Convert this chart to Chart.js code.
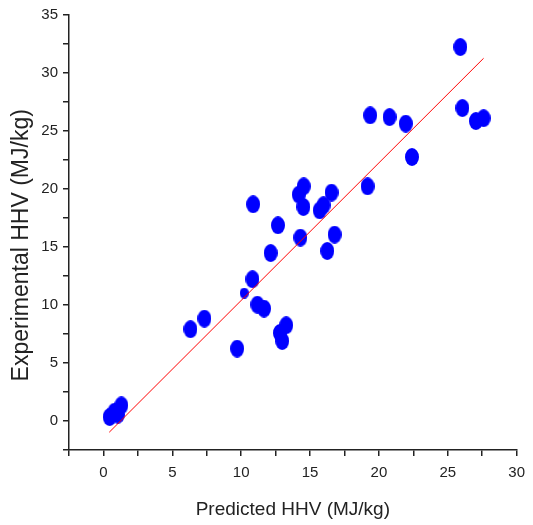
<!DOCTYPE html>
<html>
<head>
<meta charset="utf-8">
<script src="https://cdn.jsdelivr.net/npm/chart.js@4"></script>
<style>
    html, body { margin: 0; padding: 0; background: #fff; }
    #wrap { width: 533px; height: 525px; }
</style>
</head>
<body>
<div id="wrap"><canvas id="hhv-chart"></canvas></div>
<script>
const predicted = [
    0.45, 0.8, 1.05, 1.3, 6.32, 7.33, 9.71, 10.22, 10.82, 11.18, 11.66, 12.81,
    12.98, 13.27, 10.87, 12.14, 12.67, 14.18, 14.54, 14.52, 14.3, 15.7, 15.98,
    16.56, 16.78, 16.25, 19.18, 19.37, 20.77, 21.95, 22.4, 25.91, 26.06, 27.04, 27.6,
];
const experimental = [
    0.35, 0.8, 0.55, 1.35, 7.91, 8.83, 6.24, 11.03, 12.22, 10.03, 9.69, 7.59,
    6.9, 8.25, 18.68, 14.48, 16.87, 19.52, 20.23, 18.45, 15.81, 18.16, 18.6,
    19.69, 16.07, 14.66, 20.23, 26.35, 26.2, 25.64, 22.76, 32.24, 26.98, 25.86, 26.1,
];
const fitX = [0.42, 27.6];
const fitY = [-0.97, 31.27];
const smallPoint = 7;

function ellipse(w, h) {
    const c = document.createElement('canvas');
    c.width = w;
    c.height = h;
    const g = c.getContext('2d');
    g.fillStyle = '#0000ff';
    g.beginPath();
    g.ellipse(w / 2, h / 2, w / 2, h / 2, 0, 0, Math.PI * 2);
    g.fill();
    return c;
}
const bigDot = ellipse(14, 18);
const smallDot = ellipse(9, 11);

const tickFont = { family: "'Liberation Sans', Arial", size: 15 };
const axisColor = '#222';

const hhvCanvas = document.getElementById('hhv-chart');
const hhvConfig = {
    type: 'scatter',
    data: {
        datasets: [{
            type: 'line',
            data: fitX.map((x, i) => ({ x: x, y: fitY[i] })),
            borderColor: 'rgb(255, 0, 0)',
            backgroundColor: 'rgb(255, 0, 0)',
            borderWidth: 1,
            pointRadius: 0,
            fill: false,
        }, {
            data: predicted.map((x, i) => ({ x: x, y: experimental[i] })),
            pointStyle: ctx => ctx.dataIndex === smallPoint ? smallDot : bigDot,
            backgroundColor: '#0000ff',
            borderWidth: 0,
        }]
    },
    options: {
        responsive: true,
        maintainAspectRatio: false,
        animation: false,
        layout: { padding: { left: 0, right: 14, top: 15, bottom: 0 } },
        plugins: {
            legend: { display: false },
            tooltip: { enabled: false },
        },
        scales: {
            x: {
                type: 'linear',
                min: -2.5,
                max: 30,
                afterFit: s => { s.height = 75; },
                border: { display: true, color: axisColor, width: 1.5 },
                grid: { drawOnChartArea: false, drawTicks: true, tickLength: 6, color: axisColor, lineWidth: 1.5 },
                ticks: {
                    stepSize: 2.5,
                    autoSkip: false,
                    maxRotation: 0,
                    padding: 8,
                    color: '#222',
                    font: tickFont,
                    callback: v => (v % 5 === 0 && v >= 0) ? v : '',
                },
                title: {
                    display: true,
                    text: 'Predicted HHV (MJ/kg)',
                    color: '#222',
                    font: { family: "'Liberation Sans', Arial", size: 19 },
                    padding: { top: 3, bottom: 4 },
                },
            },
            y: {
                type: 'linear',
                min: -2.5,
                max: 35,
                afterFit: s => { s.width = 69; },
                border: { display: true, color: axisColor, width: 1.5 },
                grid: { drawOnChartArea: false, drawTicks: true, tickLength: 6, color: axisColor, lineWidth: 1.5 },
                ticks: {
                    stepSize: 2.5,
                    autoSkip: false,
                    padding: 5,
                    color: '#222',
                    font: tickFont,
                    callback: v => (v % 5 === 0 && v >= 0) ? v : '',
                },
                title: {
                    display: true,
                    // trailing spaces nudge the centred label down like the original
                    text: 'Experimental HHV (MJ/kg)    ',
                    color: '#222',
                    font: { family: "'Liberation Sans', Arial", size: 23 },
                    padding: { top: 8, bottom: 0 },
                },
            },
        },
    },
};

const hhvChart = new Chart(hhvCanvas, hhvConfig);
</script>
</body>
</html>
